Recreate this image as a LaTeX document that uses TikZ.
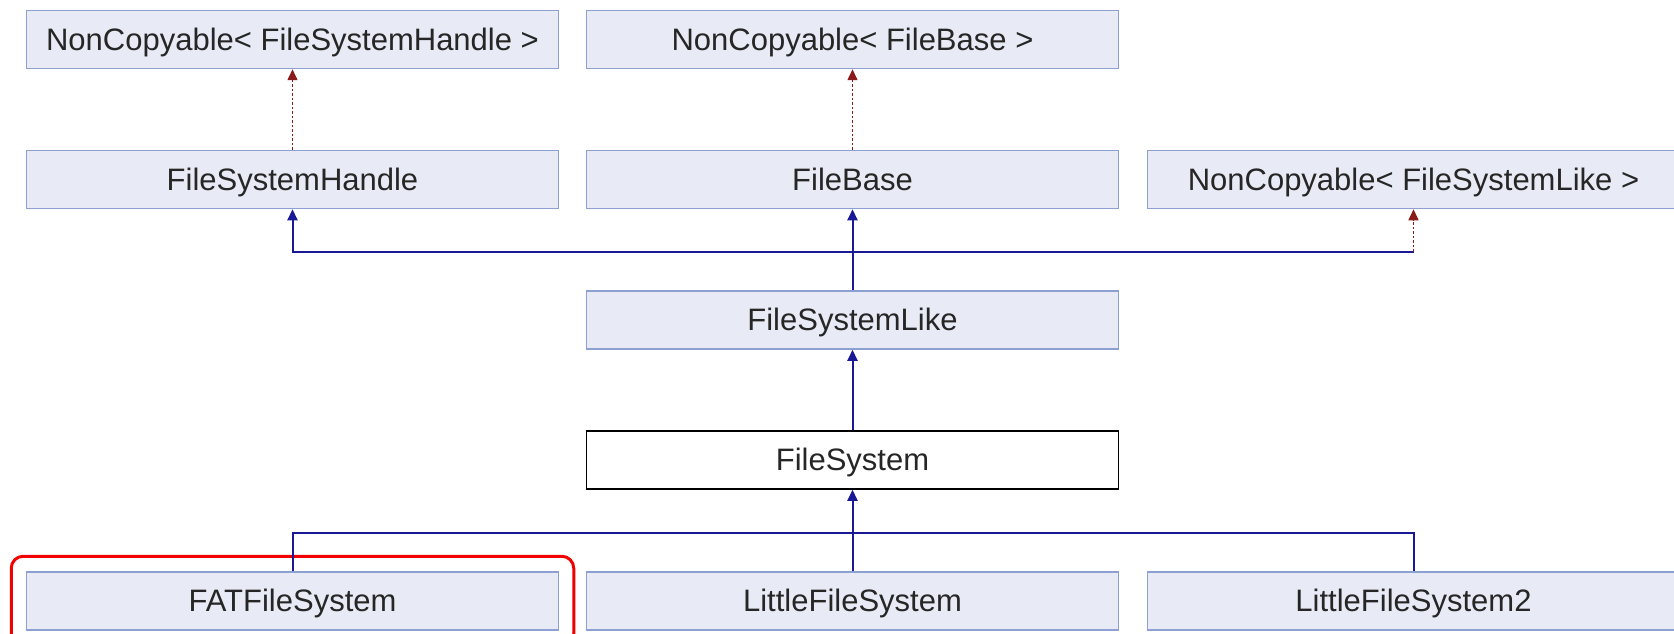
\documentclass[tikz,border=0pt]{standalone}
\usepackage{fontspec}
\setmainfont{Liberation Sans}
\usepackage{tikz}
\usetikzlibrary{arrows.meta, calc, positioning, fit}
\usepackage{xcolor}
\definecolor{boxfill}{RGB}{232, 235, 245}
\definecolor{boxline}{RGB}{140, 160, 210}
\definecolor{inhblue}{RGB}{25, 25, 150}
\definecolor{tmplred}{RGB}{139, 26, 26}
\definecolor{hired}{RGB}{240, 0, 0}

\begin{document}
\begin{tikzpicture}[x=1pt, y=-1pt,
				cls/.style={draw=boxline, fill=boxfill, line width=1.5pt,
					minimum width=532pt, minimum height=58pt, inner sep=0pt,
					text height=22.5pt, text depth=1pt,
					font=\fontsize{31}{37}\selectfont, text=black!85},
				cur/.style={cls, draw=black, fill=white},
				inh/.style={-{Triangle[length=11pt, width=10pt]}, inhblue, line width=2pt},
				link/.style={inhblue, line width=2pt},
				tmpl/.style={-{Triangle[length=11pt, width=10pt]}, tmplred, line width=1.5pt,
					dash pattern=on 2.5pt off 2pt},
				hilite/.style={draw=hired, line width=3pt, rounded corners=12pt,
					inner xsep=14.5pt, inner ysep=15pt}
				]
				\useasboundingbox (0,0) rectangle (1674,634);
				\node[cls] (ncfsh) at (292.5, 39.5)  {NonCopyable< FileSystemHandle >};
				\node[cls] (ncfb)  at (852.5, 39.5)  {NonCopyable< FileBase >};
				\node[cls] (fsh)   at (292.5, 179.5) {FileSystemHandle};
				\node[cls] (fb)    at (852.5, 179.5) {FileBase};
				\node[cls] (ncfsl) at (1413.5,179.5) {NonCopyable< FileSystemLike >};
				\node[cls] (fsl)   at (852.5, 320)   {FileSystemLike};
				\node[cur] (fs)    at (852.5, 460)   {FileSystem};
				\node[cls] (fat)   at (292.5, 601)   {FATFileSystem};
				\node[cls] (lfs)   at (852.5, 601)   {LittleFileSystem};
				\node[cls] (lfs2)  at (1413.5,601)   {LittleFileSystem2};
				\node[hilite, fit=(fat)] (mark) {};
				\coordinate (upj) at (852.5, 251.5);
				\coordinate (upr) at (upj -| ncfsl);
				\coordinate (lowj) at (852.5, 533);
				\draw[tmpl] (fsh) -- (ncfsh);
				\draw[tmpl] (fb)  -- (ncfb);
				\draw[inh]  (fsl) -- (fb);
				\draw[inh]  (upj) -| (fsh);
				\draw[link] (upj) -- (upr);
				\draw[tmpl] (upr) -- (ncfsl);
				\draw[inh]  (fs)  -- (fsl);
				\draw[link] (fat) |- (lowj) -| (lfs2);
				\draw[inh]  (lfs) -- (fs);
			\end{tikzpicture}
\end{document}
